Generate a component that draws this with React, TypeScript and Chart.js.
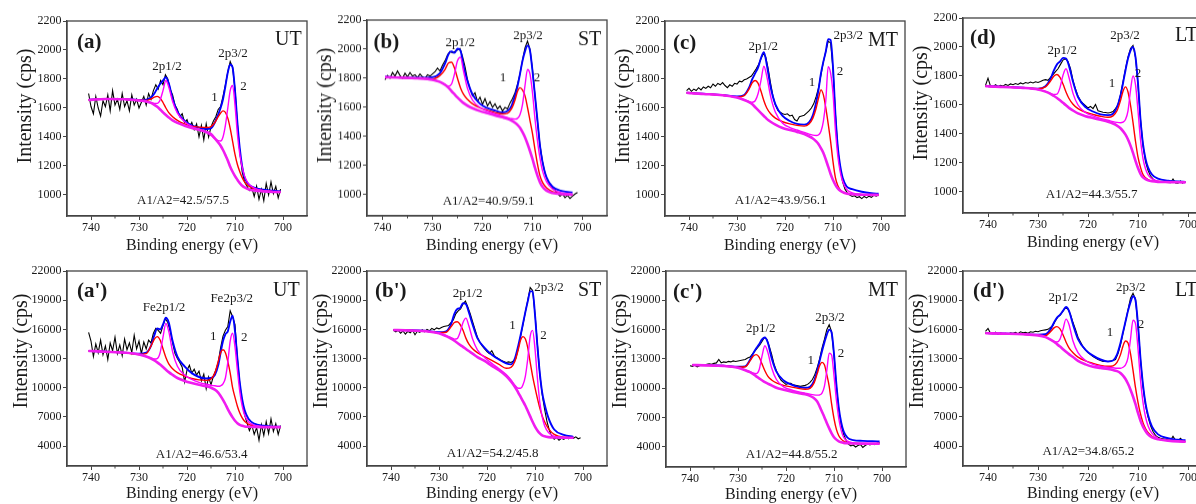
import React, { useEffect, useRef } from "react";
import { Chart, registerables } from "chart.js";

Chart.register(...registerables);

// ---------- shared axes ----------
const rawEnergy = [
  740.5, 740, 739.5, 739, 738.5, 738, 737.5, 737, 736.5, 736,
  735.5, 735, 734.5, 734, 733.5, 733, 732.5, 732, 731.5, 731,
  730.5, 730, 729.5, 729, 728.5, 728, 727.5, 727, 726.5, 726,
  725.5, 725, 724.5, 724, 723.5, 723, 722.5, 722, 721.5, 721,
  720.5, 720, 719.5, 719, 718.5, 718, 717.5, 717, 716.5, 716,
  715.5, 715, 714.5, 714, 713.5, 713, 712.5, 712, 711.5, 711,
  710.5, 710, 709.5, 709, 708.5, 708, 707.5, 707, 706.5, 706,
  705.5, 705, 704.5, 704, 703.5, 703, 702.5, 702, 701.5, 701,
  700.5,
];
const fitEnergy = [
  740.5, 739.5, 737, 733, 730,
  728.5, 727.5, 726.8, 726.2, 725.6, 725, 724.4, 723.8, 723,
  722, 720.5, 719, 717.5, 716, 715, 714.2, 713.5,
  713, 712.5, 712, 711.5, 711, 710.5, 710, 709.5, 709, 708.5, 708,
  707.2, 706, 704, 702, 700.5,
];
const xTicks = [740, 730, 720, 710, 700];
const xMinorTicks = [735, 725, 715, 705];
const yTicksTop = [1000, 1200, 1400, 1600, 1800, 2000, 2200];
const yTicksBottom = [4000, 7000, 10000, 13000, 16000, 19000, 22000];

// ---------- panel (a) UT ----------
const aRaw = [
  1700, 1610, 1560, 1680, 1600, 1545, 1650, 1610, 1690, 1580,
  1720, 1620, 1660, 1590, 1700, 1610, 1650, 1580, 1690, 1620,
  1660, 1600, 1640, 1680, 1620, 1700, 1660, 1720, 1760, 1730,
  1790, 1760, 1830, 1800, 1730, 1690, 1620, 1590, 1540, 1560,
  1500, 1520, 1470, 1500, 1450, 1490, 1400, 1480, 1380, 1490,
  1400, 1470, 1510, 1540, 1590, 1610, 1680, 1760, 1850, 1920,
  1880, 1730, 1490, 1300, 1160, 1090, 1060, 1030, 1050, 990,
  1060, 970, 1040, 960, 1080, 1000, 1090, 1010, 1060, 980,
  1040,
];
const aEnvelope = [1656, 1659, 1663, 1661, 1655, 1658, 1672, 1700, 1735, 1765, 1790, 1812, 1770, 1665, 1575, 1510, 1480, 1465, 1455, 1460, 1500, 1555, 1600, 1660, 1750, 1845, 1900, 1880, 1720, 1500, 1320, 1195, 1120, 1075, 1050, 1036, 1029, 1026];
const aComp1 = [1655, 1658, 1662, 1660, 1653, 1652, 1662, 1675, 1680, 1668, 1638, 1600, 1568, 1540, 1515, 1490, 1475, 1468, 1465, 1472, 1500, 1540, 1565, 1580, 1570, 1530, 1460, 1370, 1280, 1210, 1160, 1120, 1090, 1062, 1042, 1029, 1023, 1021];
const aComp2 = [1655, 1658, 1662, 1660, 1652, 1645, 1638, 1632, 1632, 1655, 1720, 1790, 1745, 1645, 1565, 1505, 1472, 1452, 1432, 1410, 1390, 1375, 1372, 1400, 1480, 1600, 1720, 1755, 1620, 1420, 1280, 1190, 1130, 1078, 1048, 1030, 1023, 1020];
const aBackground = [1655, 1658, 1662, 1660, 1652, 1645, 1635, 1622, 1608, 1590, 1570, 1552, 1535, 1515, 1497, 1478, 1462, 1450, 1435, 1420, 1390, 1362, 1340, 1310, 1275, 1238, 1195, 1160, 1130, 1105, 1082, 1064, 1052, 1040, 1031, 1025, 1021, 1020];

// ---------- panel (b) ST ----------
const bRaw = [
  null, null, 1790, 1820, 1800, 1840, 1815, 1850, 1820, 1800,
  1835, 1810, 1840, 1815, 1825, 1805, 1830, 1810, 1800, 1825,
  1815, 1830, 1845, 1870, 1850, 1890, 1920, 1960, 1985, 1975,
  1985, 1995, 2005, 1950, 1880, 1790, 1730, 1680, 1700, 1640,
  1670, 1620, 1660, 1610, 1640, 1600, 1625, 1590, 1610, 1575,
  1600, 1590, 1630, 1660, 1700, 1760, 1830, 1925, 2010, 2055,
  2000, 1860, 1680, 1500, 1340, 1230, 1150, 1100, 1070, 1045,
  1030, 1010, 990, 1005, 980, 995, 975, 990, 1005, 1015,
  null,
];
const bEnvelope = [null, 1810, 1806, 1803, 1808, 1835, 1900, 1965, 1985, 1975, 2003, 1990, 1885, 1780, 1690, 1625, 1595, 1578, 1565, 1575, 1610, 1680, 1745, 1830, 1920, 1985, 2025, 1990, 1850, 1680, 1510, 1335, 1225, 1120, 1055, 1025, 1015, null];
const bComp1 = [null, 1808, 1805, 1800, 1795, 1820, 1860, 1905, 1910, 1870, 1800, 1735, 1690, 1655, 1625, 1598, 1580, 1565, 1555, 1560, 1590, 1650, 1710, 1735, 1720, 1680, 1600, 1510, 1420, 1310, 1210, 1130, 1085, 1048, 1022, 1008, 1002, null];
const bComp2 = [null, 1808, 1805, 1800, 1790, 1775, 1758, 1745, 1760, 1830, 1920, 1945, 1850, 1730, 1650, 1600, 1575, 1555, 1540, 1530, 1522, 1520, 1525, 1550, 1620, 1750, 1860, 1830, 1700, 1520, 1370, 1250, 1165, 1090, 1040, 1012, 1003, null];
const bBackground = [null, 1808, 1805, 1800, 1790, 1775, 1755, 1735, 1712, 1690, 1668, 1648, 1630, 1612, 1595, 1575, 1560, 1545, 1532, 1522, 1510, 1495, 1480, 1460, 1430, 1395, 1350, 1300, 1245, 1185, 1130, 1085, 1055, 1028, 1012, 1004, 1000, null];

// ---------- panel (c) MT ----------
const cRaw = [
  1720, 1735, 1715, 1730, 1720, 1740, 1725, 1745, 1735, 1750,
  1740, 1765, 1750, 1770, 1760, 1775, 1755, 1740, 1760, 1750,
  1770, 1765, 1785, 1780, 1795, 1800, 1810, 1820, 1845, 1870,
  1900, 1940, 1975, 1950, 1870, 1770, 1680, 1620, 1585, 1570,
  1560, 1555, 1560, 1545, 1550, 1520, 1510, 1540, 1545, 1550,
  1565, 1580, 1600, 1630, 1680, 1740, 1830, 1920, 1990, 2060,
  2050, 1870, 1560, 1320, 1180, 1090, 1040, 1015, 1000, 990,
  995, 982, 988, 975, 990, 980, 992, 984, 998, 992,
  1002,
];
const cEnvelope = [1705, 1703, 1698, 1690, 1680, 1690, 1740, 1800, 1840, 1880, 1945, 1985, 1900, 1745, 1625, 1545, 1510, 1490, 1485, 1500, 1550, 1640, 1730, 1840, 1920, 1990, 2075, 2070, 1880, 1560, 1330, 1200, 1120, 1060, 1040, 1022, 1012, 1008];
const cComp1 = [1705, 1702, 1697, 1688, 1675, 1685, 1730, 1775, 1790, 1770, 1715, 1650, 1600, 1560, 1530, 1505, 1490, 1480, 1475, 1490, 1530, 1600, 1670, 1725, 1690, 1600, 1490, 1370, 1230, 1120, 1065, 1035, 1020, 1010, 1005, 1002, 1001, 1000];
const cComp2 = [1705, 1702, 1697, 1688, 1672, 1657, 1645, 1640, 1650, 1700, 1790, 1888, 1820, 1680, 1570, 1495, 1465, 1448, 1432, 1420, 1413, 1410, 1415, 1440, 1510, 1650, 1885, 1840, 1700, 1450, 1270, 1160, 1095, 1040, 1015, 1004, 1001, 1000];
const cBackground = [1705, 1702, 1697, 1688, 1672, 1655, 1640, 1625, 1605, 1585, 1565, 1545, 1525, 1505, 1485, 1462, 1448, 1435, 1420, 1405, 1390, 1370, 1350, 1322, 1290, 1245, 1195, 1145, 1103, 1070, 1045, 1030, 1020, 1010, 1005, 1002, 1001, 1000];

// ---------- panel (d) LT ----------
const dRaw = [
  1735, 1785, 1730, 1725, 1740, 1728, 1735, 1730, 1742, 1735,
  1745, 1740, 1748, 1742, 1752, 1745, 1755, 1750, 1758, 1752,
  1760, 1755, 1762, 1770, 1775, 1770, 1790, 1810, 1830, 1850,
  1880, 1910, 1920, 1900, 1850, 1770, 1710, 1660, 1630, 1610,
  1595, 1580, 1590, 1575, 1604, 1560, 1555, 1550, 1548, 1545,
  1548, 1555, 1575, 1600, 1670, 1760, 1850, 1930, 1990, 2010,
  1930, 1740, 1500, 1320, 1210, 1150, 1110, 1090, 1075, 1070,
  1068, 1065, 1070, 1066, 1064, 1090, 1062, 1060, 1075, 1058,
  null,
];
const dEnvelope = [1731, 1729, 1725, 1720, 1712, 1730, 1780, 1840, 1880, 1900, 1925, 1920, 1870, 1760, 1655, 1585, 1555, 1535, 1530, 1540, 1585, 1665, 1750, 1840, 1920, 1975, 2000, 1930, 1750, 1500, 1330, 1230, 1170, 1120, 1092, 1078, 1072, 1070];
const dComp1 = [1730, 1728, 1724, 1718, 1712, 1725, 1765, 1800, 1810, 1790, 1745, 1690, 1645, 1605, 1575, 1550, 1535, 1522, 1515, 1525, 1560, 1630, 1695, 1725, 1690, 1600, 1480, 1350, 1240, 1170, 1120, 1098, 1086, 1077, 1072, 1069, 1067, 1066];
const dComp2 = [1730, 1728, 1724, 1718, 1707, 1693, 1680, 1672, 1675, 1720, 1805, 1850, 1790, 1680, 1600, 1548, 1525, 1508, 1495, 1485, 1480, 1478, 1482, 1500, 1560, 1700, 1800, 1740, 1560, 1360, 1230, 1160, 1120, 1090, 1075, 1069, 1067, 1066];
const dBackground = [1730, 1728, 1724, 1718, 1707, 1692, 1677, 1662, 1648, 1632, 1615, 1598, 1580, 1562, 1542, 1523, 1510, 1498, 1485, 1472, 1458, 1440, 1420, 1395, 1362, 1320, 1270, 1215, 1165, 1125, 1100, 1088, 1080, 1074, 1070, 1068, 1067, 1066];

// ---------- panel (a') UT ----------
const a2Raw = [
  15700, 14800, 13200, 14500, 13600, 14900, 13400, 14300, 12900, 14600,
  13800, 15200, 13500, 14400, 13300, 15000, 13900, 14600, 13600, 15400,
  14000, 14800, 13500, 14700, 14000, 14900, 14600, 15600, 16100, 15900,
  15600, 16400, 17100, 16700, 15800, 14600, 13500, 13000, 12600, 12100,
  10600, 11800, 12300, 11500, 11900, 11300, 11700, 10700, 11400, 9900,
  11100, 10300, 11200, 11800, 12600, 14100, 15300, 15900, 16300, 17900,
  17300, 16500, 13000, 10400, 8500, 7200, 6400, 5600, 6200, 5200,
  5900, 4600, 6200, 5100, 6500, 5300, 6800, 5500, 6300, 5200,
  6100,
];
const a2Envelope = [13790, 13770, 13710, 13610, 13500, 13600, 14300, 15400, 16100, 16000, 16500, 17200, 16700, 14800, 13200, 12200, 11500, 11100, 10950, 11000, 11300, 12300, 13600, 14800, 15500, 15800, 16800, 17400, 15800, 13000, 10500, 8800, 7700, 6800, 6300, 6100, 6000, 5980];
const a2Comp1 = [13780, 13760, 13700, 13600, 13420, 13500, 14300, 15000, 15250, 14900, 14000, 13100, 12450, 11950, 11550, 11200, 10950, 10800, 10750, 10900, 11500, 12700, 13600, 13900, 13600, 12700, 11500, 10000, 9000, 8100, 7400, 6900, 6550, 6250, 6050, 5970, 5955, 5950];
const a2Comp2 = [13780, 13760, 13700, 13600, 13420, 13200, 13050, 12950, 13000, 13600, 15200, 16600, 15800, 13700, 12200, 11300, 10850, 10550, 10350, 10250, 10200, 10150, 10200, 10400, 11000, 12600, 14800, 15600, 14200, 11800, 9600, 8100, 7200, 6500, 6150, 6000, 5960, 5950];
const a2Background = [13780, 13760, 13700, 13600, 13420, 13200, 13000, 12800, 12600, 12380, 12120, 11850, 11600, 11320, 11000, 10700, 10480, 10300, 10140, 10000, 9800, 9500, 9150, 8750, 8300, 7800, 7350, 6950, 6600, 6350, 6180, 6080, 6020, 5980, 5960, 5950, 5950, 5950];

// ---------- panel (b') ST ----------
const b2Raw = [
  null, null, 15900, 15750, 15900, 15600, 15850, 15500, 15800, 15650,
  15900, 15450, 15800, 15700, 15950, 15750, 16000, 15850, 16100, 15950,
  16150, 16050, 16200, 16300, 16350, 16400, 16700, 17000, 17600, 17900,
  18100, 18600, 18900, 18300, 17600, 16800, 16000, 15200, 14700, 14300,
  14000, 13700, 13500, 13800, 13300, 13100, 12950, 12800, 12700, 12600,
  12650, 12600, 12750, 13000, 14000, 15300, 16500, 17800, 19000, 20300,
  20000, 17600, 14500, 11400, 9300, 7800, 6500, 5600, 5000, 4700,
  4900, 4600, 4800, 4700, 4900, 4750, 4950, 4800, 4950, 4750,
  4850,
];
const b2Envelope = [null, 15950, 15920, 15850, 15700, 15800, 16500, 17600, 18100, 18200, 18700, 18600, 17800, 16500, 15100, 14100, 13400, 12900, 12500, 12400, 13000, 14300, 15400, 16600, 17800, 18900, 19900, 19900, 17500, 14300, 11500, 9500, 8300, 6900, 5700, 5150, 4950, null];
const b2Comp1 = [null, 15930, 15900, 15820, 15650, 15700, 16250, 16700, 16780, 16500, 15900, 15100, 14500, 14000, 13600, 13200, 12800, 12400, 12000, 12100, 12700, 13900, 14900, 15250, 15000, 14100, 12600, 11200, 10000, 8900, 7900, 7100, 6500, 5800, 5200, 4900, 4860, null];
const b2Comp2 = [null, 15930, 15900, 15820, 15600, 15350, 15150, 15000, 15050, 15700, 16700, 17150, 16400, 15000, 13900, 13100, 12500, 11950, 11350, 10800, 10250, 9950, 9950, 10300, 11200, 13000, 15300, 15900, 14000, 11000, 8500, 7000, 6100, 5400, 5000, 4870, 4855, null];
const b2Background = [null, 15930, 15900, 15820, 15600, 15300, 15050, 14830, 14620, 14400, 14200, 13980, 13770, 13500, 13150, 12750, 12250, 11800, 11200, 10650, 10100, 9500, 9050, 8600, 8150, 7600, 7050, 6500, 6000, 5600, 5300, 5100, 5000, 4920, 4880, 4860, 4850, null];

// ---------- panel (c') MT ----------
const c2Raw = [
  null, 12300, 12250, 12350, 12200, 12300, 12400, 12350, 12450, 12500,
  12450, 12550, 12600, 12950, 12600, 12700, 12650, 12750, 12700, 12800,
  12750, 12800, 12850, 12900, 12950, 13100, 13200, 13500, 13800, 14100,
  14400, 14800, 15200, 15000, 14300, 13500, 12500, 11800, 11200, 10800,
  10600, 10400, 10500, 10500, 10350, 10300, 10250, 10200, 10250, 10300,
  10400, 10600, 10900, 11400, 12100, 13000, 14100, 15000, 16000, 16500,
  15800, 13400, 10200, 7800, 6200, 5300, 4700, 4300, 4100, 4200,
  4000, 4150, 4250, 3950, 4150, 4300, 4200, 4350, 4250, 4400,
  4450,
];
const c2Envelope = [null, 12400, 12380, 12320, 12200, 12250, 12900, 13600, 14100, 14500, 15000, 15200, 14700, 13100, 11700, 10800, 10400, 10150, 10050, 10150, 10700, 11800, 12800, 13800, 14700, 15500, 16000, 15700, 13500, 10400, 8000, 6500, 5600, 4950, 4700, 4620, 4580, 4570];
const c2Comp1 = [null, 12380, 12350, 12290, 12150, 12200, 12800, 13300, 13450, 13200, 12500, 11800, 11250, 10850, 10550, 10300, 10150, 10000, 9900, 10000, 10500, 11500, 12300, 12650, 12400, 11400, 10200, 8400, 6900, 5800, 5150, 4800, 4600, 4450, 4380, 4345, 4340, 4340];
const c2Comp2 = [null, 12380, 12350, 12290, 12100, 11870, 11700, 11550, 11500, 11900, 13300, 14350, 13700, 12100, 10900, 10150, 9850, 9650, 9500, 9400, 9330, 9300, 9320, 9500, 10200, 11800, 13600, 13400, 11300, 8800, 6900, 5700, 5000, 4600, 4420, 4350, 4340, 4340];
const c2Background = [null, 12380, 12350, 12290, 12100, 11850, 11650, 11450, 11220, 11020, 10820, 10630, 10480, 10300, 10050, 9850, 9680, 9530, 9380, 9220, 9000, 8650, 8150, 7600, 7050, 6450, 5900, 5400, 5000, 4750, 4580, 4480, 4420, 4380, 4350, 4340, 4340, 4340];

// ---------- panel (d') LT ----------
const d2Raw = [
  15800, 16100, 15600, 15550, 15700, 15500, 15650, 15550, 15600, 15500,
  15650, 15600, 15700, 15550, 15750, 15650, 15700, 15600, 15750, 15700,
  15800, 15750, 15850, 15900, 15950, 16000, 16200, 16400, 16900, 17300,
  17500, 17900, 18200, 18100, 17500, 16700, 16000, 15200, 14700, 14200,
  13900, 13600, 13400, 13200, 13050, 12900, 12800, 12700, 12700, 12700,
  12750, 12800, 12900, 13500, 14400, 15600, 16800, 18000, 19200, 19700,
  19100, 16400, 12900, 10100, 8200, 7000, 6100, 5500, 5100, 4900,
  4800, 4750, 4700, 4650, 4600, 5000, 4600, 4550, 4800, 4500,
  null,
];
const d2Envelope = [15620, 15600, 15570, 15520, 15450, 15500, 16000, 16700, 17200, 17500, 17900, 18300, 17900, 16500, 15000, 13900, 13300, 12900, 12700, 12800, 13400, 14600, 15700, 16800, 17900, 18800, 19400, 19000, 16500, 13000, 10300, 8400, 7200, 6000, 5200, 4800, 4650, 4600];
const d2Comp1 = [15600, 15590, 15560, 15500, 15400, 15350, 15750, 16150, 16280, 16050, 15450, 14700, 14100, 13600, 13150, 12750, 12500, 12300, 12200, 12250, 12600, 13400, 14300, 14800, 14600, 13500, 11800, 10000, 8500, 7300, 6400, 5800, 5400, 5000, 4720, 4580, 4490, 4455];
const d2Comp2 = [15600, 15590, 15560, 15500, 15380, 15200, 14950, 14750, 14700, 15000, 16000, 17050, 16500, 14800, 13600, 12800, 12400, 12200, 12100, 12050, 12000, 12000, 12100, 12350, 13100, 15000, 16950, 16600, 14000, 10800, 8500, 7000, 6100, 5300, 4800, 4560, 4480, 4450];
const d2Background = [15600, 15590, 15560, 15500, 15380, 15200, 14950, 14720, 14480, 14230, 13960, 13700, 13450, 13150, 12750, 12400, 12150, 12030, 11920, 11820, 11700, 11500, 11250, 10900, 10400, 9800, 9100, 8300, 7400, 6600, 6000, 5550, 5200, 4900, 4700, 4560, 4480, 4450];

// ---------- layout / styling (not data) ----------
type Label = { t: string; dx: number; dy: number; size: number; bold?: boolean; align?: CanvasTextAlign };
type Panel = {
  key: string;
  box: { left: number; top: number; width: number; height: number };
  xRange: [number, number];
  yRange: [number, number];
  yTicks: number[];
  raw: (number | null)[];
  env: (number | null)[];
  c1: (number | null)[];
  c2: (number | null)[];
  bg: (number | null)[];
  yTitle: { dx: number; dy: number };
  xTitleDy: number;
  labels: Label[];
};

const SERIF = '"Liberation Serif", "Times New Roman", serif';

const panelLabels = (tag: string, cond: string, p: number[], names: string[], ratio: string): Label[] => [
  { t: tag, dx: p[0], dy: p[1], size: 21, bold: true, align: "left" },
  { t: cond, dx: p[2], dy: p[3], size: 20, align: "left" },
  { t: names[0], dx: p[4], dy: p[5], size: 13 },
  { t: names[1], dx: p[6], dy: p[7], size: 13 },
  { t: "1", dx: p[8], dy: p[9], size: 13 },
  { t: "2", dx: p[10], dy: p[11], size: 13 },
  { t: ratio, dx: p[12], dy: p[13], size: 13 },
];

const topTitle = { dx: -41, dy: 85 };
const botTitle = { dx: -45, dy: 80 };

const panels: Panel[] = [
  {
    key: "a", box: { left: 67, top: 20.7, width: 240, height: 195.3 }, xRange: [695, 745], yRange: [855, 2200], yTicks: yTicksTop,
    raw: aRaw, env: aEnvelope, c1: aComp1, c2: aComp2, bg: aBackground, yTitle: topTitle, xTitleDy: 34,
    labels: panelLabels("(a)", "UT", [10, 27, 208, 24, 100, 49, 166, 36, 147.5, 80, 176.5, 69, 116, 183], ["2p1/2", "2p3/2"], "A1/A2=42.5/57.5"),
  },
  {
    key: "b", box: { left: 366.7, top: 20.3, width: 240.3, height: 195.7 }, xRange: [695.1, 743.1], yRange: [855, 2200], yTicks: yTicksTop,
    raw: bRaw, env: bEnvelope, c1: bComp1, c2: bComp2, bg: bBackground, yTitle: topTitle, xTitleDy: 34,
    labels: panelLabels("(b)", "ST", [6.5, 28, 211, 25, 93.3, 26, 161, 19, 136, 61, 170, 61, 121.6, 184], ["2p1/2", "2p3/2"], "A1/A2=40.9/59.1"),
  },
  {
    key: "c", box: { left: 665, top: 20.7, width: 240, height: 195.8 }, xRange: [695, 745], yRange: [855, 2200], yTicks: yTicksTop,
    raw: cRaw, env: cEnvelope, c1: cComp1, c2: cComp2, bg: cBackground, yTitle: topTitle, xTitleDy: 34,
    labels: panelLabels("(c)", "MT", [8, 28, 203, 25, 98.3, 29, 183.3, 17.5, 147, 65, 175, 54, 115.7, 183], ["2p1/2", "2p3/2"], "A1/A2=43.9/56.1"),
  },
  {
    key: "d", box: { left: 963, top: 18.3, width: 250, height: 195 }, xRange: [695, 745], yRange: [855, 2200], yTicks: yTicksTop,
    raw: dRaw, env: dEnvelope, c1: dComp1, c2: dComp2, bg: dBackground, yTitle: topTitle, xTitleDy: 34,
    labels: panelLabels("(d)", "LT", [7, 26, 212, 23.4, 99.3, 36, 162, 21, 149, 69, 175, 59, 128.7, 180], ["2p1/2", "2p3/2"], "A1/A2=44.3/55.7"),
  },
  {
    key: "a2", box: { left: 67, top: 271.3, width: 240, height: 195 }, xRange: [695, 745], yRange: [1950, 22000], yTicks: yTicksBottom,
    raw: a2Raw, env: a2Envelope, c1: a2Comp1, c2: a2Comp2, bg: a2Background, yTitle: botTitle, xTitleDy: 32,
    labels: panelLabels("(a')", "UT", [10, 26, 206, 25, 97, 40, 164.7, 31, 146.3, 69, 177.3, 70, 134.7, 187], ["Fe2p1/2", "Fe2p3/2"], "A1/A2=46.6/53.4"),
  },
  {
    key: "b2", box: { left: 366.7, top: 271.3, width: 240.3, height: 195 }, xRange: [695, 745], yRange: [1950, 22000], yTicks: yTicksBottom,
    raw: b2Raw, env: b2Envelope, c1: b2Comp1, c2: b2Comp2, bg: b2Background, yTitle: botTitle, xTitleDy: 32,
    labels: panelLabels("(b')", "ST", [8, 25.7, 211, 25, 100.6, 26, 182, 19.5, 145.6, 57.7, 176.6, 67.7, 125.6, 186], ["2p1/2", "2p3/2"], "A1/A2=54.2/45.8"),
  },
  {
    key: "c2", box: { left: 666, top: 270.7, width: 240, height: 196.3 }, xRange: [695, 745], yRange: [1950, 22000], yTicks: yTicksBottom,
    raw: c2Raw, env: c2Envelope, c1: c2Comp1, c2: c2Comp2, bg: c2Background, yTitle: botTitle, xTitleDy: 32,
    labels: panelLabels("(c')", "MT", [7, 26.7, 202, 25, 94.7, 60.7, 164, 50, 144.7, 92.7, 175, 85.7, 125.7, 186.7], ["2p1/2", "2p3/2"], "A1/A2=44.8/55.2"),
  },
  {
    key: "d2", box: { left: 963, top: 271, width: 250, height: 195.3 }, xRange: [695, 745], yRange: [1950, 22000], yTicks: yTicksBottom,
    raw: d2Raw, env: d2Envelope, c1: d2Comp1, c2: d2Comp2, bg: d2Background, yTitle: botTitle, xTitleDy: 32,
    labels: panelLabels("(d')", "LT", [10, 26, 212, 25, 100.3, 30, 167.7, 20, 147, 65, 178, 57, 125.3, 184], ["2p1/2", "2p3/2"], "A1/A2=34.8/65.2"),
  },
];

const PAD_LEFT = 70;
const PAD_TOP = 12;
const PAD_RIGHT = 6;
const PAD_BOTTOM = 45;

const toPoints = (xs: number[], ys: (number | null)[]) =>
  xs.map((x, i) => ({ x, y: ys[i] })).filter((p) => p.y !== null && p.y !== undefined) as { x: number; y: number }[];

function makeDecor(panel: Panel) {
  return {
    id: "decor_" + panel.key,
    afterDraw(chart: any) {
      const { ctx, chartArea: ca, scales } = chart;
      ctx.save();
      // frame
      ctx.strokeStyle = "#444";
      ctx.lineWidth = 1.3;
      ctx.strokeRect(ca.left, ca.top, ca.right - ca.left, ca.bottom - ca.top);
      // minor ticks on x
      ctx.lineWidth = 1;
      ctx.beginPath();
      for (const v of xMinorTicks) {
        const x = scales.x.getPixelForValue(v);
        ctx.moveTo(x, ca.bottom);
        ctx.lineTo(x, ca.bottom + 2.5);
      }
      ctx.stroke();
      ctx.fillStyle = "#1a1a1a";
      // x title
      ctx.font = `16px ${SERIF}`;
      ctx.textAlign = "center";
      ctx.textBaseline = "alphabetic";
      ctx.fillText("Binding energy (eV)", (ca.left + ca.right) / 2 + 5, ca.bottom + panel.xTitleDy);
      // annotations
      for (const l of panel.labels) {
        ctx.font = `${l.bold ? "bold " : ""}${l.size}px ${SERIF}`;
        ctx.textAlign = l.align || "center";
        ctx.fillText(l.t, ca.left + l.dx, ca.top + l.dy);
      }
      // y title
      ctx.translate(ca.left + panel.yTitle.dx, ca.top + panel.yTitle.dy);
      ctx.rotate(-Math.PI / 2);
      ctx.font = `20px ${SERIF}`;
      ctx.textAlign = "center";
      ctx.textBaseline = "middle";
      ctx.fillText("Intensity (cps)", 0, 0);
      ctx.restore();
    },
  };
}

function PanelChart({ panel }: { panel: Panel }) {
  const ref = useRef<HTMLCanvasElement>(null);
  const w = PAD_LEFT + panel.box.width + PAD_RIGHT;
  const h = PAD_TOP + panel.box.height + PAD_BOTTOM;
  useEffect(() => {
    if (!ref.current) return;
    const smooth = { pointRadius: 0, cubicInterpolationMode: "monotone" as const, fill: false };
    const chart = new Chart(ref.current, {
      type: "line",
      data: {
        datasets: [
          { label: "background", data: toPoints(fitEnergy, panel.bg), borderColor: "#f01cf0", borderWidth: 2.6, ...smooth },
          { label: "component 2", data: toPoints(fitEnergy, panel.c2), borderColor: "#ff00ff", borderWidth: 1.4, ...smooth },
          { label: "component 1", data: toPoints(fitEnergy, panel.c1), borderColor: "#ff0000", borderWidth: 1.4, ...smooth },
          { label: "envelope", data: toPoints(fitEnergy, panel.env), borderColor: "#0000ff", borderWidth: 1.9, ...smooth },
          { label: "raw", data: toPoints(rawEnergy, panel.raw), borderColor: "#000000", borderWidth: 1.1, pointRadius: 0, tension: 0, fill: false },
        ],
      },
      options: {
        animation: false,
        responsive: false,
        devicePixelRatio: 1,
        events: [],
        layout: { padding: { left: 0, top: PAD_TOP, right: PAD_RIGHT, bottom: 0 } },
        plugins: { legend: { display: false }, tooltip: { enabled: false }, title: { display: false } },
        scales: {
          x: {
            type: "linear",
            reverse: true,
            min: panel.xRange[0],
            max: panel.xRange[1],
            afterBuildTicks: (s: any) => { s.ticks = xTicks.map((v) => ({ value: v })); },
            afterFit: (s: any) => { s.height = PAD_BOTTOM; },
            ticks: { autoSkip: false, maxRotation: 0, minRotation: 0, padding: 1, color: "#1a1a1a", font: { family: SERIF, size: 12 }, callback: (v: any) => String(v) },
            grid: { display: true, drawOnChartArea: false, drawTicks: true, tickLength: 4, color: "#444", lineWidth: 1 },
            border: { display: true, color: "#444", width: 1.3 },
          },
          y: {
            type: "linear",
            min: panel.yRange[0],
            max: panel.yRange[1],
            afterBuildTicks: (s: any) => { s.ticks = panel.yTicks.map((v) => ({ value: v })); },
            afterFit: (s: any) => { s.width = PAD_LEFT; },
            ticks: { autoSkip: false, padding: 1.5, color: "#1a1a1a", font: { family: SERIF, size: 12 }, callback: (v: any) => String(v) },
            grid: { display: true, drawOnChartArea: false, drawTicks: true, tickLength: 4, color: "#444", lineWidth: 1 },
            border: { display: true, color: "#444", width: 1.3 },
          },
        },
      },
      plugins: [makeDecor(panel)],
    } as any);
    return () => chart.destroy();
  }, [panel]);
  return (
    <canvas
      ref={ref}
      width={w}
      height={h}
      style={{ position: "absolute", left: panel.box.left - PAD_LEFT, top: panel.box.top - PAD_TOP, width: w, height: h }}
    />
  );
}

export default function App() {
  return (
    <div style={{ position: "fixed", left: 0, top: 0, width: 1196, height: 504, overflow: "hidden", background: "#ffffff" }}>
      {panels.map((p) => (
        <PanelChart key={p.key} panel={p} />
      ))}
    </div>
  );
}
